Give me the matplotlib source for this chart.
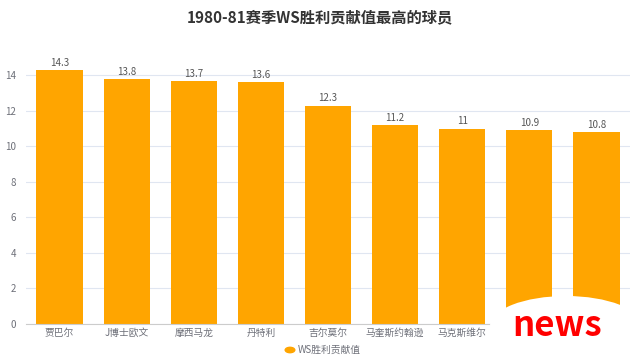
import matplotlib
matplotlib.use("Agg")
import matplotlib.pyplot as plt
from matplotlib.patches import Ellipse, Rectangle

plt.rcParams['font.family'] = ['Noto Sans CJK SC', 'DejaVu Sans']

title = "1980-81赛季WS胜利贡献值最高的球员"
series_name = "WS胜利贡献值"
# last two names are hidden behind the watermark in the reference
players = ["贾巴尔", "J博士欧文", "摩西马龙", "丹特利", "吉尔莫尔", "马奎斯约翰逊", "马克斯维尔", "", ""]
values = [14.3, 13.8, 13.7, 13.6, 12.3, 11.2, 11, 10.9, 10.8]
yticks = [0, 2, 4, 6, 8, 10, 12, 14]

bar_color = "#FFA500"
text_gray = "#6e7079"
grid_gray = "#e0e6f1"

fig = plt.figure(figsize=(6.4, 3.6), dpi=100)
ax = fig.add_axes([26/640, 1-324/360, 604/640, (324-70)/360])

x = list(range(len(players)))
ax.bar(x, values, width=0.69, color=bar_color, zorder=2)
for xi, v in zip(x, values):
    ax.text(xi, v + 0.12, f"{v:g}", ha="center", va="bottom", fontsize=7, color="#555555")

ax.set_xlim(-0.5, len(players) - 0.5)
ax.set_ylim(0, 14.3)
ax.set_yticks(yticks)
ax.set_yticklabels([str(t) for t in yticks])
ax.set_xticks(x)
ax.set_xticklabels(players)
ax.tick_params(axis='y', length=0, labelsize=7, colors=text_gray, pad=7)
ax.tick_params(axis='x', length=0, labelsize=7, labelcolor=text_gray, pad=3)
for t in yticks:
    ax.axhline(t, color=grid_gray, lw=0.8, zorder=1)
for s in ["top", "right", "left"]:
    ax.spines[s].set_visible(False)
ax.spines["bottom"].set_color("#cccccc")
ax.spines["bottom"].set_zorder(3)

fig.text(0.5, 1 - 17/360, title, ha="center", va="center", fontsize=11, fontweight="bold", color="#333333")

# legend
fig.patches.append(plt.Circle((290/640, 1 - 350/360), 0.0075, transform=fig.transFigure, color=bar_color, figure=fig))
fig.text(298/640, 1 - 350/360, series_name, ha="left", va="center", fontsize=7, color=text_gray)

# watermark overlay
fig.patches.append(Ellipse((566/640, 1 - 326/360), 152/640, 60/360, transform=fig.transFigure,
                           facecolor="white", edgecolor="none", zorder=10, figure=fig))
fig.patches.append(Rectangle((490/640, 0), 152/640, 34/360, transform=fig.transFigure,
                             facecolor="white", edgecolor="none", zorder=10, figure=fig))
fig.text(557/640, 1 - 325/360, "news", ha="center", va="center", fontsize=25, fontweight="bold", color="#ff0000", zorder=11)

fig.savefig("out.png", dpi=100)
